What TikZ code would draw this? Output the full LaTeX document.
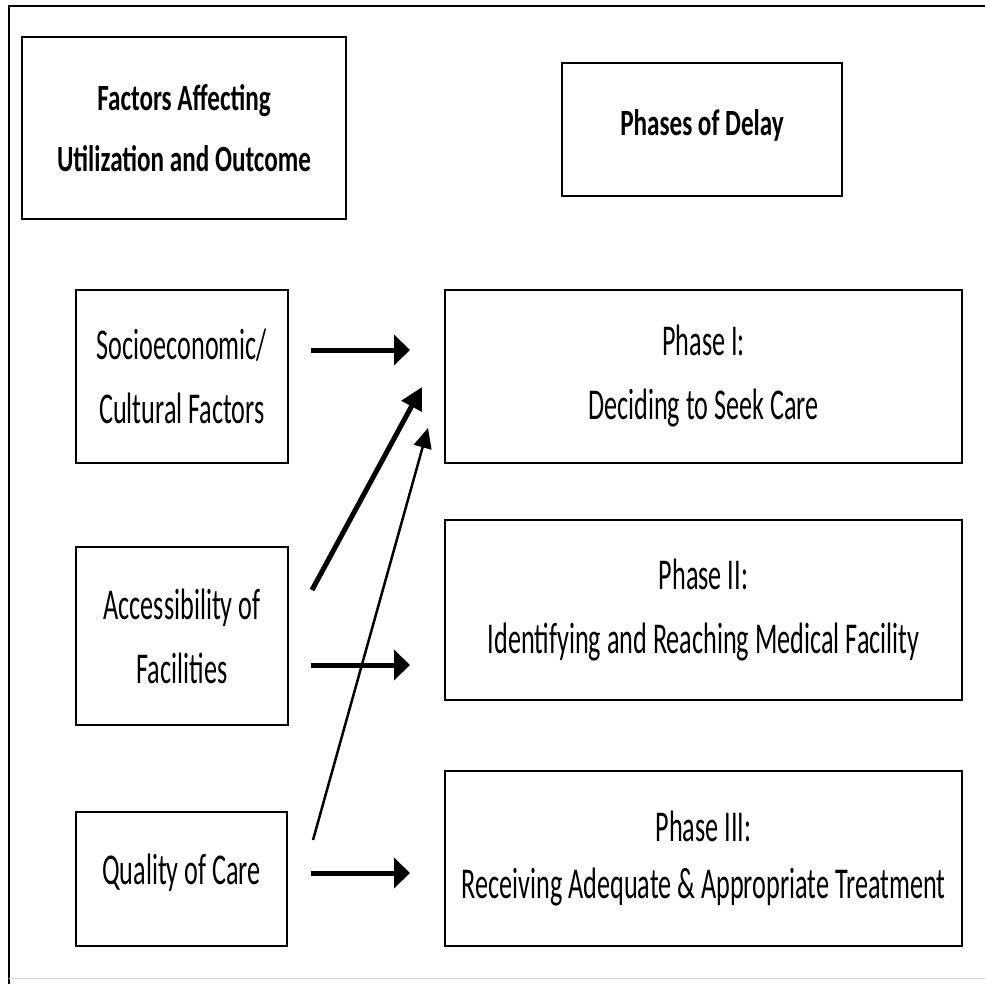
\documentclass[tikz,border=0pt]{standalone}
\usepackage{fontspec}
\usepackage{xcolor}
\usepackage{tikz}
\usetikzlibrary{arrows.meta}
\setmainfont{Carlito}
\newfontfamily\phasefont[FakeStretch=0.595]{Carlito}
\newfontfamily\headfont[FakeStretch=0.68]{Carlito}

\begin{document}
\begin{tikzpicture}[x=1pt, y=-1pt,
    box/.style={draw, rectangle, line width=2pt, align=center, inner sep=0pt},
    headbox/.style={box, font=\headfont\bfseries\fontsize{37}{61}\selectfont},
    textbox/.style={box, font=\phasefont\fontsize{44}{64}\selectfont},
    fatarrow/.style={-{Triangle[length=16pt, width=30pt]}, line width=5pt},
    thinarrow/.style={-{Triangle[length=20pt, width=18pt]}, line width=2.5pt}]
                \useasboundingbox (0,0) rectangle (985,984);
                \draw[line width=2pt] (985,6) -- (9,6) -- (9,984);
                \draw[line width=1pt, black!15] (9,978) -- (985,978);
                \node[headbox, minimum width=324pt, minimum height=182pt] (factors) at (184,128) {Factors Affecting\\Utilization and Outcome};
                \node[headbox, minimum width=280pt, minimum height=133pt] (phases) at (702,129.5) {\raisebox{14pt}{Phases of Delay}};
                \node[textbox, minimum width=212pt, minimum height=173pt] (socio) at (182,376.5) {Socioeconomic/\\Cultural Factors};
                \node[textbox, minimum width=212pt, minimum height=178pt] (access) at (182,636) {Accessibility of\\Facilities};
                \node[textbox, minimum width=211pt, minimum height=134pt] (quality) at (181.5,879) {\raisebox{20pt}{Quality of Care}};
                \node[textbox, minimum width=517pt, minimum height=173pt] (phaseone) at (703.5,376.5) {Phase I:\\Deciding to Seek Care};
                \node[textbox, minimum width=517pt, minimum height=180pt] (phasetwo) at (703.5,610) {Phase II:\\Identifying and Reaching Medical Facility};
                \node[textbox, minimum width=517pt, minimum height=175pt] (phasethree) at (703.5,858.5) {Phase III:\\[-7pt]Receiving Adequate \& Appropriate Treatment};
                \draw[fatarrow] ([shift={(22,-26.5)}]socio.east) -- ([shift={(-34,-26.5)}]phaseone.west);
                \draw[fatarrow] ([shift={(22,29)}]access.east) -- ([shift={(-34,55)}]phasetwo.west);
                \draw[fatarrow] ([shift={(23,-6)}]quality.east) -- ([shift={(-34,14.5)}]phasethree.west);
                \draw[-{Triangle[length=22pt, width=22pt]}, line width=5pt] ([shift={(23,-46)}]access.east) -- ([shift={(-22,10.5)}]phaseone.west);
                \draw[thinarrow] ([shift={(25,-39)}]quality.east) -- ([shift={(-16,51.5)}]phaseone.west);
            \end{tikzpicture}
\end{document}
